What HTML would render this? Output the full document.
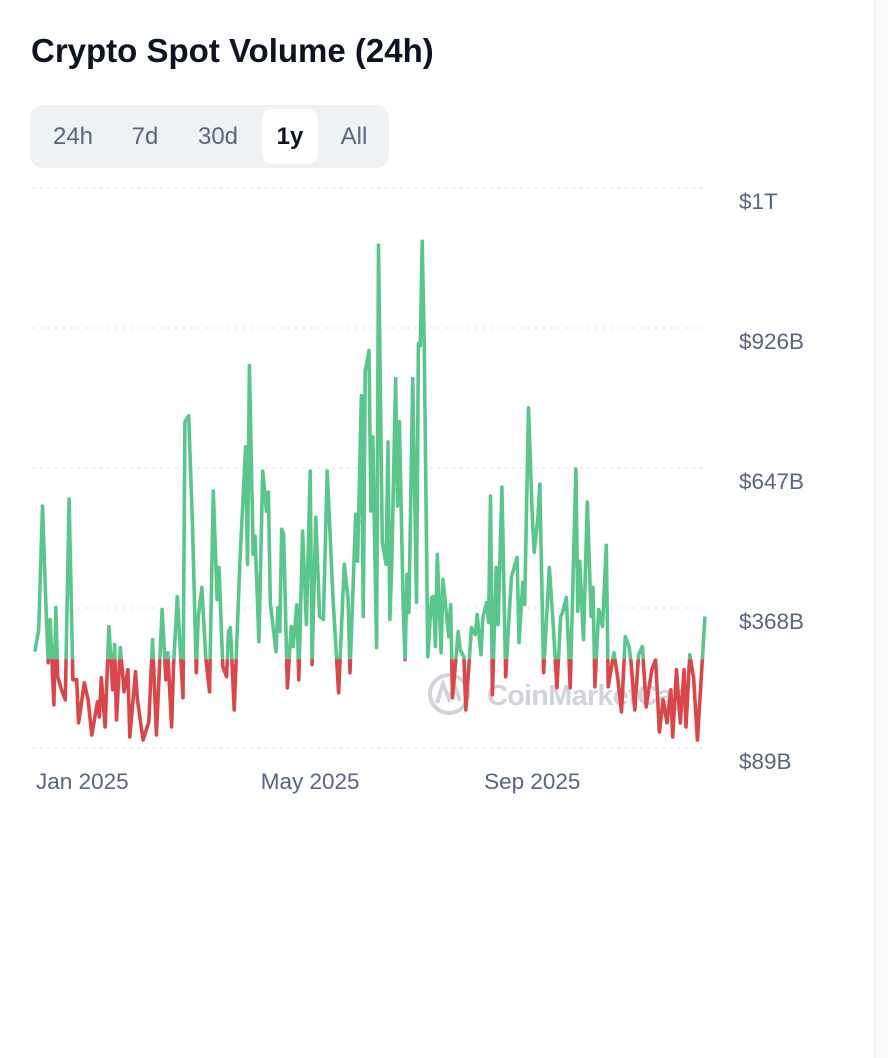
<!DOCTYPE html>
<html><head><meta charset="utf-8"><style>
body{margin:0;width:888px;height:1058px;background:#fff;font-family:"Liberation Sans",sans-serif;position:relative;overflow:hidden}
#title{position:absolute;left:31px;top:32px;font-size:33px;font-weight:bold;color:#0d1421;margin:0;white-space:nowrap}
#tabs{position:absolute;left:30px;top:105px;width:359px;height:63px;background:#eff2f5;border-radius:13px}
.tab{position:absolute;top:4px;height:55px;line-height:55px;font-size:24px;color:#58667e;text-align:center}
.tab.active{background:#fff;color:#0d1421;border-radius:10px;font-weight:bold}
#side{position:absolute;left:874px;top:0;width:14px;height:1058px;background:#f9fafb;border-left:1px solid #f0f1f3}
svg{position:absolute;left:0;top:0}
</style></head><body>
<h1 id="title">Crypto Spot Volume (24h)</h1>
<div id="tabs">
<div class="tab" style="left:6px;width:74px">24h</div>
<div class="tab" style="left:83px;width:64px">7d</div>
<div class="tab" style="left:150px;width:76px">30d</div>
<div class="tab active" style="left:232px;width:56px">1y</div>
<div class="tab" style="left:293px;width:62px">All</div>
</div>
<div id="side"></div>
<svg id="chart" width="888" height="1058"></svg>
<script>
const days=[1,3,5,7,8,9,11,12,13,15,17,19,21,23,24,27,29,31,34,35,36,38,40,42,43,44,46,48,50,51,54,55,58,61,63,65,68,70,71,73,74,76,79,80,82,84,86,87,89,91,93,95,97,98,100,102,103,104,106,109,112,113,114,116,117,119,121,123,124,125,128,129,130,131,132,134,136,137,139,140,142,144,146,147,149,151,153,155,158,161,164,166,167,170,171,173,174,175,177,178,179,181,182,184,186,187,188,189,191,192,193,195,196,197,198,200,202,203,204,205,206,208,210,211,212,213,215,216,219,220,221,224,225,227,228,231,233,234,236,237,239,240,241,242,244,245,247,249,251,252,255,256,258,259,261,263,264,266,267,269,272,274,276,278,279,281,283,286,287,288,290,292,294,295,296,298,300,302,303,306,308,310,312,314,315,317,319,321,323,326,328,330,332,334,336,337,339,341,343,344,346,348,350,354];
const volumes=[281,325,571,351,259,345,175,369,231,205,185,585,225,225,139,219,185,115,181,151,229,131,331,205,295,145,289,201,245,111,241,185,105,141,305,115,365,225,279,131,251,391,189,739,751,531,239,349,409,271,201,601,385,449,251,231,321,329,165,459,689,455,851,475,511,301,641,561,599,379,281,369,321,525,515,209,331,291,375,225,521,335,641,255,549,351,345,641,391,199,455,385,239,555,461,791,351,839,881,561,709,289,1091,499,455,699,345,459,825,571,739,371,265,435,359,825,379,895,891,1099,911,271,389,391,291,475,279,425,311,375,189,321,285,271,165,329,315,355,275,349,379,339,591,195,449,335,609,231,365,429,469,299,419,375,767,549,479,549,615,239,449,339,209,351,359,389,209,645,361,461,305,579,351,409,211,365,331,493,211,279,229,161,311,291,261,165,275,291,171,245,265,121,185,139,205,111,245,139,245,131,275,229,105,351];
const yTicks=[89,368,647,926,1205];
const yTickLabels=["$89B","$368B","$647B","$926B","$1T"];
const xTickDays=[26,146,263];
const xTickLabels=["Jan 2025","May 2025","Sep 2025"];
const threshold=266;

const NS="http://www.w3.org/2000/svg";
const svg=document.getElementById('chart');
const X0=33,X1=705,Y0=748,Y1=188,DMAX=354;
const xs=d=>X0+(d/DMAX)*(X1-X0);
const ys=v=>Y0-(v-89)/(1205-89)*(Y0-Y1);
function mk(t,a){const e=document.createElementNS(NS,t);for(const k in a)e.setAttribute(k,a[k]);svg.appendChild(e);return e;}
yTicks.forEach((v,i)=>{
 const g=mk('line',{x1:X0,x2:X1,y1:ys(v),y2:ys(v),stroke:'#dfe2e7','stroke-width':1.3,'stroke-dasharray':'1.5 6','stroke-linecap':'round'});
 
 
 const t=mk('text',{x:739,y:ys(v)+21,'font-size':22.5,fill:'#58667e','font-family':'Liberation Sans, sans-serif'});
 t.textContent=yTickLabels[i];
 
 
});
xTickDays.forEach((d,i)=>{
 const t=mk('text',{x:xs(d),y:789,'font-size':22.5,fill:'#58667e','text-anchor':'middle','font-family':'Liberation Sans, sans-serif'});
 t.textContent=xTickLabels[i];
 
 
});
const wm=mk('g',{opacity:0.55});


wm.innerHTML='<circle cx="449" cy="694" r="19" fill="none" stroke="#aab0ba" stroke-width="4"/><path d="M437 703 L443 684 L449 699 L455 686 L460 701" fill="none" stroke="#aab0ba" stroke-width="4"/><text x="487" y="705" font-size="29" font-weight="bold" fill="#aab0ba" textLength="203" font-family="Liberation Sans, sans-serif">CoinMarketCap</text>';
const ty=ys(threshold);
const defs=mk('defs',{});
defs.innerHTML='<clipPath id="above"><rect x="0" y="0" width="888" height="'+ty+'"/></clipPath><clipPath id="below"><rect x="0" y="'+ty+'" width="888" height="'+(1058-ty)+'"/></clipPath>';
const pts=days.map((d,i)=>xs(d).toFixed(1)+','+ys(volumes[i]).toFixed(1)).join(' ');
const lg=mk('polyline',{points:pts,fill:'none',stroke:'#5bc68c','stroke-width':3.6,'stroke-linejoin':'round','clip-path':'url(#above)'});


const lr=mk('polyline',{points:pts,fill:'none',stroke:'#d9474b','stroke-width':3.6,'stroke-linejoin':'round','clip-path':'url(#below)'});


</script>
</body></html>
